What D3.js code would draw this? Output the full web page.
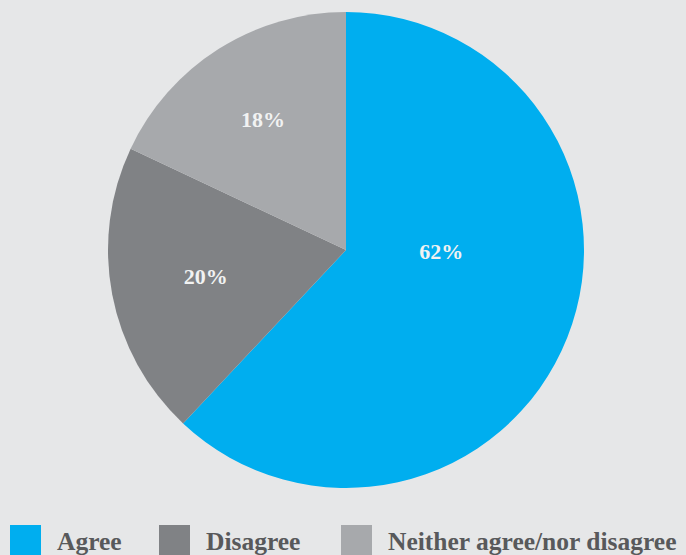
<!DOCTYPE html>
<html>
<head>
<meta charset="utf-8">
<script src="https://cdn.jsdelivr.net/npm/d3@7"></script>
<style>
  body { margin: 0; background: #e6e7e8; }
  svg { display: block; }
</style>
</head>
<body>
<div id="chart"></div>
<script>
// data
var categories = ["Agree", "Disagree", "Neither agree/nor disagree"];
var values = [62, 20, 18];
var colors = ["#00aeef", "#808285", "#a7a9ac"];

var svgWidth = 686;
var svgHeight = 555;
var cx = 346, cy = 250, radius = 238;

var svg = d3.select("#chart")
  .append("svg")
  .attr("width", svgWidth)
  .attr("height", svgHeight);

svg.append("rect")
  .attr("width", svgWidth)
  .attr("height", svgHeight)
  .attr("fill", "#e6e7e8");

var pieGroup = svg.append("g")
  .attr("transform", "translate(" + cx + "," + cy + ")");

var pie = d3.pie().sort(null).value(d => d.value);
var arc = d3.arc().innerRadius(0).outerRadius(radius);

var data = categories.map((c, i) => ({ name: c, value: values[i], color: colors[i] }));
var arcs = pie(data);

pieGroup.selectAll("path")
  .data(arcs)
  .enter()
  .append("path")
  .attr("d", arc)
  .attr("fill", d => d.data.color);

// label placement: radius factor per slice, big slice label sits nearer the centre
var labelR = [0.40, 0.60, 0.65];
function labelPos(d, i) {
  var a = (d.startAngle + d.endAngle) / 2;
  if (i === 0) a = Math.PI * 91 / 180;
  var r = radius * labelR[i];
  return [Math.sin(a) * r, -Math.cos(a) * r];
}

pieGroup.selectAll("text")
  .data(arcs)
  .enter()
  .append("text")
  .attr("x", (d, i) => labelPos(d, i)[0])
  .attr("y", (d, i) => labelPos(d, i)[1])
  .attr("dy", "0.35em")
  .attr("text-anchor", "middle")
  .attr("font-family", "'Liberation Serif', 'DejaVu Serif', serif")
  .attr("font-weight", "bold")
  .attr("font-size", 22)
  .attr("fill", "#f1f2f2")
  .text(d => d.data.value + "%");

// legend
var legendX = [10, 159, 341];
var legend = svg.append("g");
var items = legend.selectAll("g")
  .data(data)
  .enter()
  .append("g")
  .attr("transform", (d, i) => "translate(" + legendX[i] + ",525)");

items.append("rect")
  .attr("width", 31)
  .attr("height", 30)
  .attr("fill", d => d.color);

items.append("text")
  .attr("x", 47)
  .attr("y", 25)
  .attr("font-family", "'Liberation Serif', 'DejaVu Serif', serif")
  .attr("font-weight", "bold")
  .attr("font-size", 25.5)
  .attr("fill", "#58595b")
  .text(d => d.name);
</script>
</body>
</html>
